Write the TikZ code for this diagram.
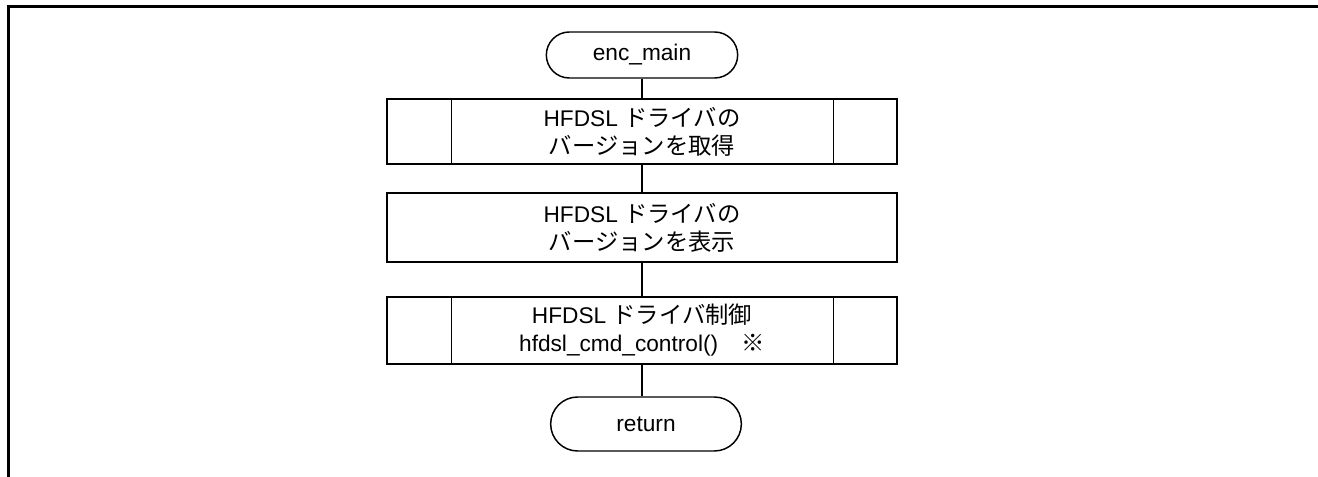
\documentclass[tikz,border=0pt]{standalone}
\usepackage{fontspec}
\setmainfont{Liberation Sans}
\newfontfamily\cjk{Noto Sans CJK JP}
\usetikzlibrary{shapes.misc}
\newcommand{\jp}[1]{{\cjk\fontsize{17.5}{21}\selectfont #1}}
\begin{document}
\begin{tikzpicture}[x=0.75pt,y=-0.75pt,
  lw/.style={line width=1.1pt},
  term/.style={draw, lw, rounded rectangle, rounded rectangle arc length=180,
    minimum width=143.5pt, inner sep=0pt, font=\fontsize{17}{21}\selectfont},
  procbox/.style={draw, lw, rectangle, minimum width=382.5pt, inner sep=0pt,
    align=center, font=\fontsize{17}{21}\selectfont},
  conn/.style={lw}]
\useasboundingbox (0,0) rectangle (1318,477);
\draw[line width=2.25pt] (8,477) -- (8,7) -- (1318,7);

\node[term, minimum height=34.5pt] (start) at (642,55) {enc\_main};
\node[procbox, minimum height=48.75pt] (b1) at (642,131.5)
  {HFDSL \jp{ドライバの}\\\jp{バージョンを取得}};
\node[procbox, minimum height=51.75pt] (b2) at (642,227.5)
  {HFDSL \jp{ドライバの}\\\jp{バージョンを表示}};
\node[procbox, minimum height=50.25pt] (b3) at (642,330.5)
  {HFDSL \jp{ドライバ制御}\\hfdsl\_cmd\_control()\jp{　※}};
\node[term, minimum height=40.5pt, minimum width=143pt] (ret) at (646,424) {return};

\foreach \b in {b1,b3}{
  \draw[lw] ([xshift=48.75pt]\b.north west) -- ([xshift=48.75pt]\b.south west);
  \draw[lw] ([xshift=-48pt]\b.north east) -- ([xshift=-48pt]\b.south east);
}

\draw[conn] (start.south) -- (b1.north);
\draw[conn] (b1.south) -- (b2.north);
\draw[conn] (b2.south) -- (b3.north);
\draw[conn] (b3.south) -- (b3.south |- ret.north);
\end{tikzpicture}
\end{document}
